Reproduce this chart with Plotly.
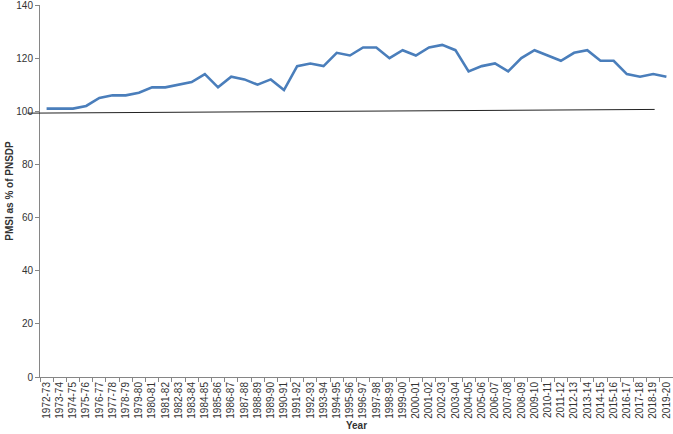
import plotly.graph_objects as go


# 회계연도 라벨
years = [
    "1972-73", "1973-74", "1974-75", "1975-76", "1976-77", "1977-78", "1978-79", "1979-80",
    "1980-81", "1981-82", "1982-83", "1983-84", "1984-85", "1985-86", "1986-87", "1987-88",
    "1988-89", "1989-90", "1990-91", "1991-92", "1992-93", "1993-94", "1994-95", "1995-96",
    "1996-97", "1997-98", "1998-99", "1999-00", "2000-01", "2001-02", "2002-03", "2003-04",
    "2004-05", "2005-06", "2006-07", "2007-08", "2008-09", "2009-10", "2010-11", "2011-12",
    "2012-13", "2013-14", "2014-15", "2015-16", "2016-17", "2017-18", "2018-19", "2019-20",
]

# PMSI as % of PNSDP
pmsi_pct = [
    101, 101, 101, 102, 105, 106, 106, 107, 109, 109,
    110, 111, 114, 109, 113, 112, 110, 112, 108, 117,
    118, 117, 122, 121, 124, 124, 120, 123, 121, 124,
    125, 123, 115, 117, 118, 115, 120, 123, 121, 119,
    122, 123, 119, 119, 114, 113, 114, 113,
]

# 100 기준선 (양 끝 값)
ref_line = [99.3, 100.7]

y_ticks = [0, 20, 40, 60, 80, 100, 120, 140]

font_family = "Liberation Sans"

fig = go.Figure(
    data=[
        go.Scatter(
            x=years,
            y=pmsi_pct,
            mode="lines",
            line=dict(color="#4A7EBB", width=2.6),
            showlegend=False,
        )
    ],
    layout=go.Layout(
        width=673,
        height=434,
    ),
)

fig.update_layout(
    margin=dict(l=40, r=0, t=5, b=57),
    paper_bgcolor="white",
    plot_bgcolor="white",
    font=dict(family=font_family, size=10, color="#333333"),
    shapes=[
        dict(
            type="line",
            xref="paper",
            yref="y",
            x0=-0.02,
            x1=0.971,
            y0=ref_line[0],
            y1=ref_line[1],
            line=dict(color="#222222", width=1),
        )
    ],
)

fig.update_xaxes(
    type="category",
    range=[-0.5, len(years) - 0.5],
    tickangle=-90,
    ticks="outside",
    tickson="boundaries",
    ticklen=4,
    tickcolor="#868686",
    showline=True,
    linecolor="#868686",
    linewidth=1,
    showgrid=False,
    zeroline=False,
    ticklabeloverflow="allow",
    tickfont=dict(size=10, color="#333333"),
    title=dict(text="<b>Year</b>", font=dict(size=10, color="#333333"), standoff=4),
)

fig.update_yaxes(
    range=[0, 140],
    tickvals=y_ticks,
    ticks="outside",
    ticklen=4,
    tickcolor="#868686",
    showline=True,
    linecolor="#868686",
    linewidth=1,
    showgrid=False,
    zeroline=False,
    ticklabeloverflow="allow",
    tickfont=dict(size=10, color="#333333"),
    title=dict(text="<b>PMSI as % of PNSDP</b>", font=dict(size=10, color="#333333"), standoff=0),
)

# body 기본 여백 제거
fig.write_html(
    "out.html",
    config={"displayModeBar": False},
    post_script="document.body.style.margin='0';",
)
